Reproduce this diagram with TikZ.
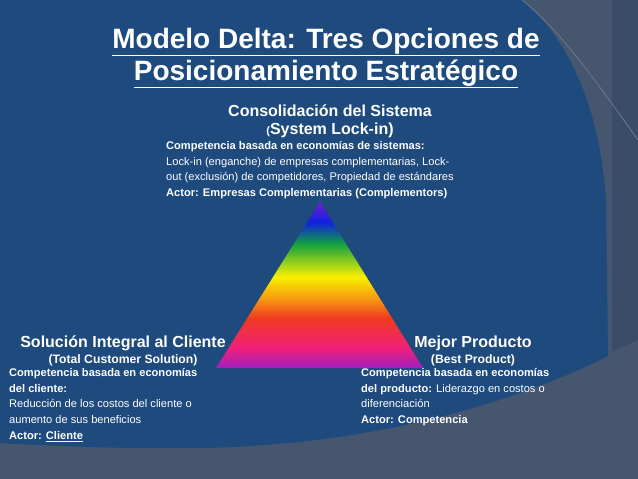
\documentclass[tikz,border=0pt]{standalone}
\usepackage{fontspec}
\setmainfont{Liberation Sans}
\definecolor{rbpurple}{HTML}{A020C0}
\definecolor{rbmag}{HTML}{F0207A}
\definecolor{rbred}{HTML}{F03A20}
\definecolor{rborange}{HTML}{F89A10}
\definecolor{rbyellow}{HTML}{F8F000}
\definecolor{rbgreen}{HTML}{10A040}
\definecolor{rbblue}{HTML}{1020E0}
\definecolor{rbviolet}{HTML}{7020D0}
\definecolor{bgblue}{HTML}{1E4A7E}
\definecolor{bggray}{HTML}{45566E}
\definecolor{bggray2}{HTML}{3A4D68}
\pgfdeclareverticalshading{rainbowsh}{100bp}{
 color(0bp)=(rbpurple);
 color(25bp)=(rbpurple);
 color(31bp)=(rbmag);
 color(40bp)=(rbred);
 color(46bp)=(rborange);
 color(52.5bp)=(rbyellow);
 color(62.5bp)=(rbgreen);
 color(69bp)=(rbblue);
 color(75bp)=(rbviolet);
 color(100bp)=(rbviolet)}
\tikzset{
 txt/.style={text=white,inner sep=0pt,font=\fontsize{11.1}{15.8}\selectfont},
 blk/.style={txt,align=left,anchor=north west},
 head/.style={txt,font=\bfseries\fontsize{16}{19}\selectfont},
 sub/.style={txt,font=\bfseries\fontsize{12.2}{14}\selectfont},
 ttl/.style={text=white,inner sep=0pt,font=\bfseries\fontsize{28}{31}\selectfont}
}
\begin{document}
\begin{tikzpicture}[x=1pt,y=-1pt]
\useasboundingbox (0,0) rectangle (638,479);
\fill[bggray] (0,0) rectangle (638,479);
\fill[bggray2] (612,0) -- (638,0) -- (638,340) .. controls (630,343) and (620,348) .. (612,352) -- cycle;
\fill[bgblue] (0,0) -- (522,0) .. controls (570,40) and (600,110) .. (606,200) -- (608,356)
  .. controls (520,400) and (380,445) .. (200,448) .. controls (120,449) and (50,446) .. (0,443) -- cycle;
\draw[white!20!bggray,line width=0.8pt] (522,0) .. controls (560,30) and (595,80) .. (638,140);
\node[ttl,align=center] (title) at (326,58) {\underline{Modelo Delta: Tres Opciones de}\\[1pt]\underline{Posicionamiento Estratégico}};
\shade[shading=rainbowsh] (320,202) coordinate (apex) -- (423,368) coordinate (br) -- (216,368) coordinate (bl) -- cycle;
\node[head] (t1) at (330,111) {Consolidación del Sistema};
\node[head] (t2) at (330,130) {{\fontsize{11}{12}\selectfont(}System Lock-in)};
\node[blk] (tb) at (166,141) {\textbf{Competencia basada en economías de sistemas:}\\Lock-in (enganche) de empresas complementarias, Lock-\\out (exclusión) de competidores, Propiedad de estándares\\\textbf{Actor: Empresas Complementarias (Complementors)}};
\node[head] (l1) at (123,343) {Solución Integral al Cliente};
\node[sub] (l2) at (123,360) {(Total Customer Solution)};
\node[blk] (lb) at (9,368) {\textbf{Competencia basada en economías}\\\textbf{del cliente:}\\Reducción de los costos del cliente o\\aumento de sus beneficios\\\textbf{Actor: \underline{Cliente}}};
\node[head] (r1) at (473,343) {Mejor Producto};
\node[sub] (r2) at (473,360) {(Best Product)};
\node[blk] (rb) at (361,368) {\textbf{Competencia basada en economías}\\\textbf{del producto:} Liderazgo en costos o\\diferenciación\\\textbf{Actor: Competencia}};
\end{tikzpicture}
\end{document}
